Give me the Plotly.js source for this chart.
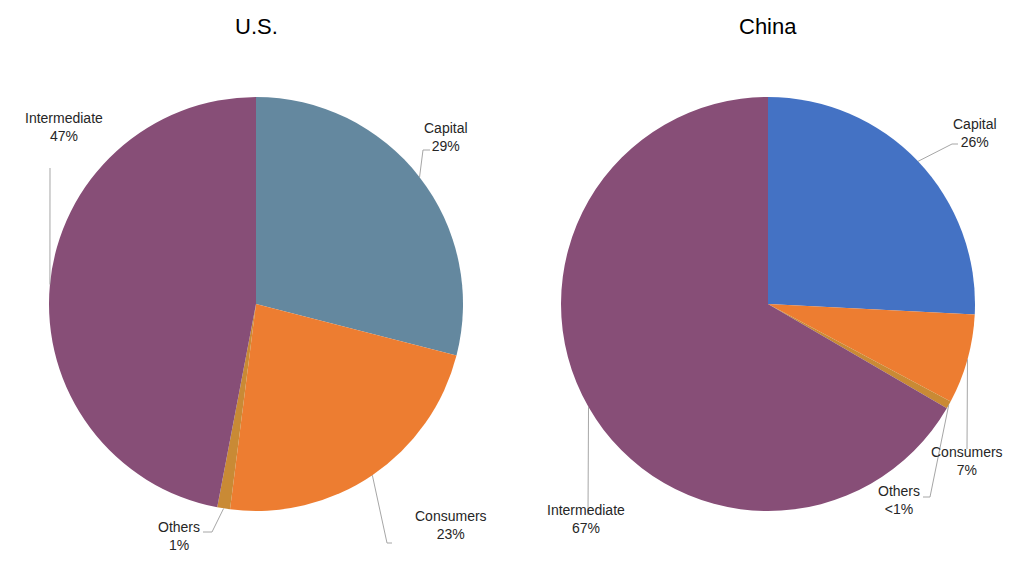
<!DOCTYPE html>
<html>
<head>
<meta charset="utf-8">
<script src="https://cdn.plot.ly/plotly-3.0.1.min.js"></script>
<style>html,body{margin:0;padding:0;background:#fff;}#chart{width:1024px;height:569px;}</style>
</head>
<body>
<div id="chart"></div>
<script>
// ---- data ----
const categories = ['Capital', 'Consumers', 'Others', 'Intermediate'];
const usShares = [29, 23, 1, 47];
const chinaShares = [25.8, 7.0, 0.6, 66.6];
const pieTitles = ['U.S.', 'China'];

// ---- styles / layout config ----
const W = 1024, H = 569;
const usColors = ['#64889F', '#ED7D31', '#C98A35', '#874E77'];
const chinaColors = ['#4472C4', '#ED7D31', '#C98A35', '#874E77'];
const pies = [
  {name: pieTitles[0], values: usShares, colors: usColors, cx: 256, cy: 304, r: 207,
   labels: [
     {pos: [446, 137], path: [[423, 150], [430, 150]]},
     {pos: [451, 525], path: [[387, 543], [392, 543]]},
     {pos: [179, 536], path: [[212, 532], [203, 532]]},
     {pos: [64, 127], path: [[50, 168]]}
   ]},
  {name: pieTitles[1], values: chinaShares, colors: chinaColors, cx: 768, cy: 304, r: 207,
   labels: [
     {pos: [975, 133], path: [[952, 144], [958, 144]]},
     {pos: [967, 461], path: [[967, 449]]},
     {pos: [899, 500], path: [[930, 497], [923, 497]]},
     {pos: [586, 519], path: [[588, 515]]}
   ]}
];

const px = x => x / W;
const py = y => 1 - y / H;
const fmtPct = v => (v < 1 ? '<1%' : Math.round(v) + '%');

const traces = [];
const annotations = [];
const shapes = [];

pies.forEach(p => {
  traces.push({
    type: 'pie',
    values: p.values,
    labels: categories,
    sort: false,
    direction: 'clockwise',
    rotation: 0,
    textinfo: 'none',
    hoverinfo: 'label+percent',
    marker: {colors: p.colors, line: {width: 0}},
    domain: {x: [px(p.cx - p.r), px(p.cx + p.r)], y: [py(p.cy + p.r), py(p.cy - p.r)]},
    showlegend: false
  });
  annotations.push({
    text: p.name, xref: 'paper', yref: 'paper', x: px(p.cx), y: py(26),
    xanchor: 'center', yanchor: 'middle', showarrow: false,
    font: {family: 'Liberation Sans, Arial, sans-serif', size: 22, color: '#000'}
  });
  const total = p.values.reduce((a, b) => a + b, 0);
  let cum = 0;
  p.values.forEach((v, i) => {
    const mid = (cum + v / 2) / total * 2 * Math.PI;
    cum += v;
    const ex = p.cx + p.r * Math.sin(mid);
    const ey = p.cy - p.r * Math.cos(mid);
    const L = p.labels[i];
    annotations.push({
      text: categories[i] + '<br>' + fmtPct(v),
      xref: 'paper', yref: 'paper', x: px(L.pos[0]), y: py(L.pos[1]),
      xanchor: 'center', yanchor: 'middle', showarrow: false, align: 'center',
      font: {family: 'Liberation Sans, Arial, sans-serif', size: 14, color: '#262626'}
    });
    let d = 'M ' + px(ex) + ' ' + py(ey);
    L.path.forEach(pt => { d += ' L ' + px(pt[0]) + ' ' + py(pt[1]); });
    shapes.push({type: 'path', xref: 'paper', yref: 'paper', path: d,
      line: {color: '#A6A6A6', width: 1}});
  });
});

const layout = {
  width: W, height: H,
  margin: {l: 0, r: 0, t: 0, b: 0},
  paper_bgcolor: '#fff',
  plot_bgcolor: '#fff',
  annotations: annotations,
  shapes: shapes,
  showlegend: false
};

Plotly.newPlot('chart', traces, layout, {displayModeBar: false, staticPlot: true});
</script>
</body>
</html>
